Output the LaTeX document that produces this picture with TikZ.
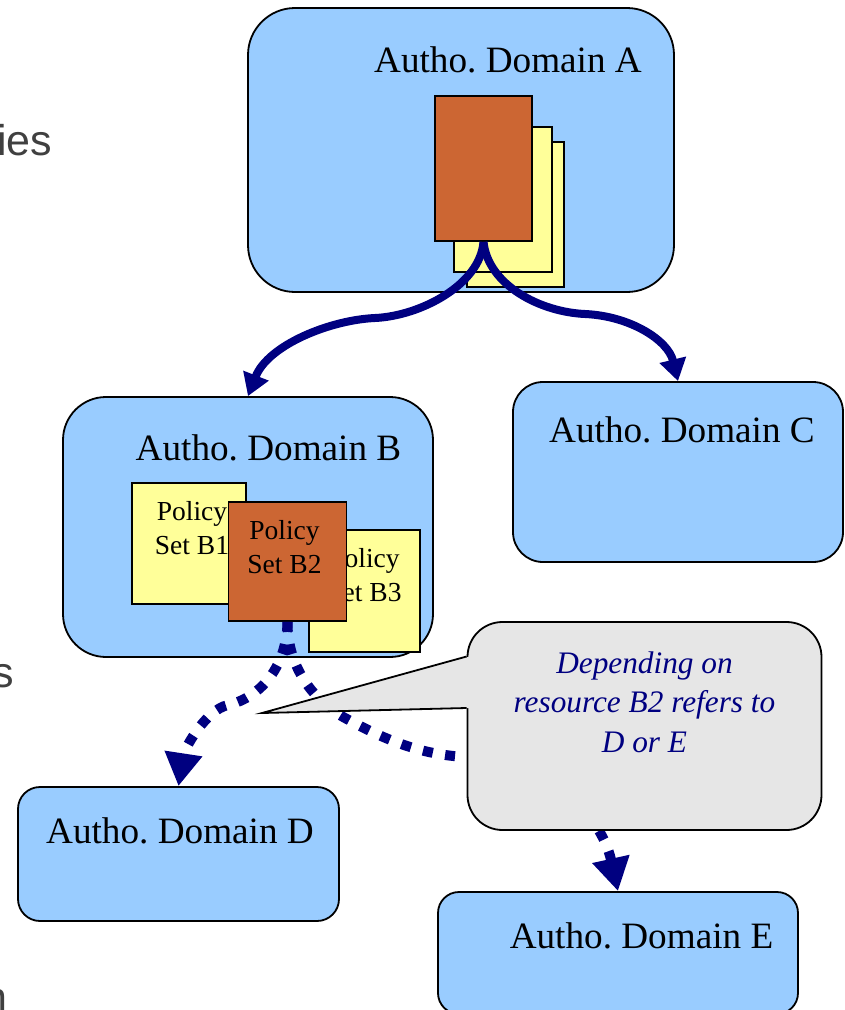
\documentclass[tikz,border=0pt]{standalone}
\usepackage{fontspec}
\setmainfont{Liberation Serif}
\newfontfamily\slidefont{Liberation Sans}
\usepackage{tikz}
\usetikzlibrary{arrows.meta,positioning,calc}
\definecolor{domainblue}{RGB}{153,204,255}
\definecolor{sheetyellow}{RGB}{255,255,153}
\definecolor{sheetorange}{RGB}{204,102,51}
\definecolor{navy}{RGB}{0,0,128}
\definecolor{notegray}{RGB}{230,230,230}
\definecolor{slidegray}{RGB}{64,64,64}
\frenchspacing

\begin{document}
\begin{tikzpicture}[x=1pt,y=-1pt,
    authbox/.style={draw=black,line width=1.8pt,fill=domainblue,inner sep=0pt},
    domtitle/.style={font=\fontsize{37.2}{44}\selectfont,anchor=base,inner sep=0pt},
    sheet/.style={draw=black,line width=1.8pt,inner sep=0pt},
    sheettext/.style={font=\fontsize{27.5}{34}\selectfont,align=center,inner sep=0pt},
    slidetext/.style={font=\slidefont\fontsize{43}{50}\selectfont,text=slidegray,anchor=base west,inner sep=0pt},
    refer/.style={draw=navy,line width=8pt,-{Triangle[length=22pt,width=26pt]}},
    maybe/.style={draw=navy,line width=10pt,dash pattern=on 10pt off 12.5pt,-{Triangle[length=33pt,width=36pt]}}]
    \useasboundingbox (0,0) rectangle (844,1010);
    \clip (0,0) rectangle (844,1010);

    % bits of the slide text behind
    \node[slidetext] (frag1) at (-3,155) {ies};
    \node[slidetext] (frag2) at (-8,687) {s};
    \node[slidetext] (frag3) at (-17,1012) {n};

    % domains
    \node[authbox,rounded corners=47pt,minimum width=426pt,minimum height=284pt] (dA) at (461,150) {};
    \node[authbox,rounded corners=43pt,minimum width=370pt,minimum height=260pt] (dB) at (248,527) {};
    \node[authbox,rounded corners=30pt,minimum width=330pt,minimum height=180pt] (dC) at (678,472) {};
    \node[authbox,rounded corners=22pt,minimum width=321pt,minimum height=134pt] (dD) at (178.5,854) {};
    \node[authbox,rounded corners=21pt,minimum width=360pt,minimum height=122pt] (dE) at (618,953) {};

    \node[domtitle] (tA) at (508,72) {Autho. Domain A};
    \node[domtitle] (tB) at (268.5,460) {Autho. Domain B};
    \node[domtitle] (tC) at (682,442) {Autho. Domain C};
    \node[domtitle] (tD) at (180,843) {Autho. Domain D};
    \node[domtitle] (tE) at (641.5,948) {Autho. Domain E};

    % policy sheets of A
    \node[sheet,fill=sheetyellow,minimum width=97pt,minimum height=145pt] (sA3) at (515.3,214.2) {};
    \node[sheet,fill=sheetyellow,minimum width=98pt,minimum height=145pt] (sA2) at (502.7,199.2) {};
    \node[sheet,fill=sheetorange,minimum width=97pt,minimum height=145pt] (sA) at (483.5,168.5) {};

    % policy sets of B
    \node[sheet,fill=sheetyellow,minimum width=111pt,minimum height=122pt] (sB3) at (364.5,591) {};
    \node[sheettext,below=19.5pt of sB3.north] (lB3) {Policy\\Set B3};
    \node[sheet,fill=sheetyellow,minimum width=114pt,minimum height=121pt] (sB1) at (189,543.5) {};
    \node[sheettext,below=19.5pt of sB1.north,xshift=3pt] (lB1) {Policy\\Set B1};
    \node[sheet,fill=sheetorange,minimum width=118pt,minimum height=119pt] (sB2) at (287.5,561.5) {};
    \node[sheettext,below=19.5pt of sB2.north,xshift=-3pt] (lB2) {Policy\\Set B2};

    % references
    \draw[refer] (sA.south) .. controls (480,285) and (420,316) .. (375,318)
        .. controls (330,320) and (268,345) .. (dB.north);
    \draw[refer] (sA.south) .. controls (488,285) and (540,312) .. (585,314)
        .. controls (630,316) and (668,340) .. (dC.north);

    \draw[maybe] (sB2.south) .. controls (287,665) and (262,697) .. (228,705)
        .. controls (205,710) and (184,750) .. (dD.north);
    \draw[maybe] (sB2.south) .. controls (287,665) and (312,700) .. (345,718)
        .. controls (380,737) and (420,756) .. (470,757)
        .. controls (540,758) and (600,810) .. (dE.north);

    % callout
    \node[draw=black,line width=1.8pt,fill=notegray,rounded corners=35pt,
        minimum width=354pt,minimum height=208pt,inner sep=0pt] (note) at (644.5,726) {};
    \coordinate (ptip) at (262,713);
    \fill[notegray] ($(note.west)+(5,-70)$) -- (ptip) -- ($(note.west)+(5,-18)$) -- cycle;
    \draw[line width=1.8pt] ($(note.west)+(0,-69.5)$) -- (ptip) -- ($(note.west)+(0,-18)$);
    \node[font=\itshape\fontsize{31.3}{39.5}\selectfont,text=navy,align=center,anchor=north,inner sep=0pt]
        (notetxt) at (644.5,651.5) {Depending on\\resource B2 refers to\\D or E};
\end{tikzpicture}
\end{document}
